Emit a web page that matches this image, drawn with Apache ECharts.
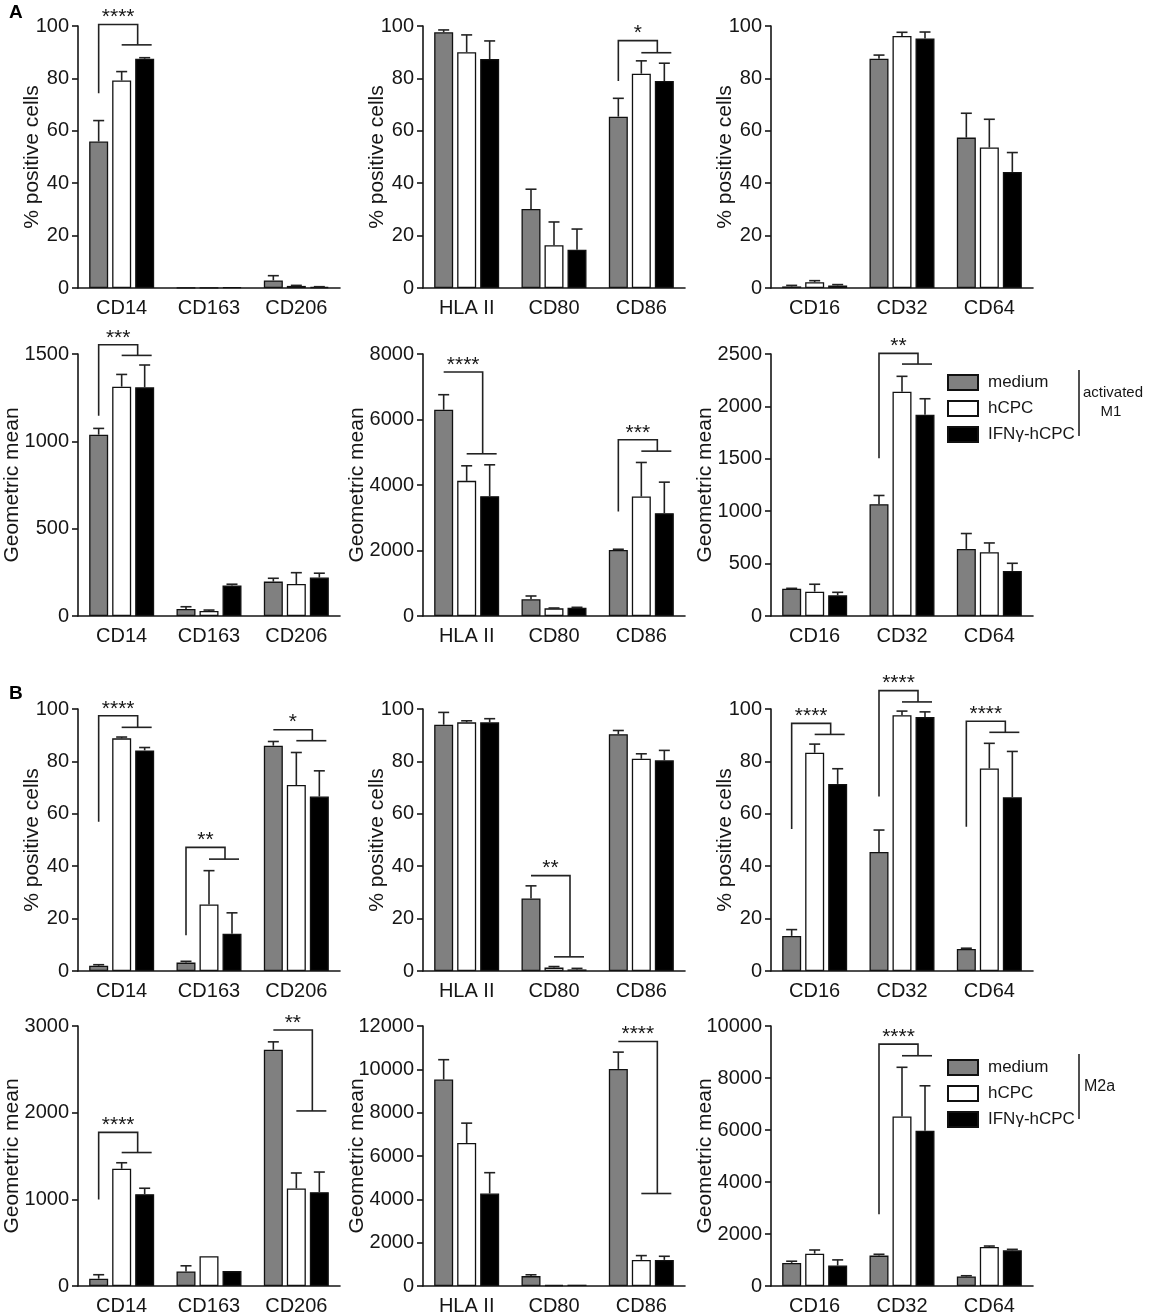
<!DOCTYPE html>
<html>
<head>
<meta charset="utf-8">
<script src="https://cdn.jsdelivr.net/npm/echarts@6/dist/echarts.min.js"></script>
<style>
  html, body { margin: 0; background: #fff; }
  #chart { width: 1149px; height: 1316px; }
</style>
</head>
<body>
<div id="chart"></div>
<script>
// groups and marker categories
const groups = ['medium', 'hCPC', 'IFNγ-hCPC'];
const markersA = ['CD14', 'CD163', 'CD206'];
const markersB = ['HLA II', 'CD80', 'CD86'];
const markersC = ['CD16', 'CD32', 'CD64'];

// y axis ranges [min, max, step]
const pctAxis = [0, 100, 20];
const aGeo1Axis = [0, 1500, 500];
const aGeo2Axis = [0, 8000, 2000];
const aGeo3Axis = [0, 2500, 500];
const bGeo1Axis = [0, 3000, 1000];
const bGeo2Axis = [0, 12000, 2000];
const bGeo3Axis = [0, 10000, 2000];

// means: rows = medium, hCPC, IFNγ-hCPC ; columns = markers
// err = upper error bar length
// sig = [marker, foot of left leg, top of bracket, lower bar, stars]

// A: activated M1
const aPct1Mean = [[55.9, 0.1, 2.9], [79.2, 0.1, 0.8], [87.5, 0.3, 0.4]];
const aPct1Err = [[8.0, 0, 1.8], [3.4, 0, 0.2], [0.4, 0, 0.1]];
const aPct1Sig = [[0, 74.3, 100.6, 92.8, '****']];

const aPct2Mean = [[97.6, 30.2, 65.4], [90.0, 16.3, 81.8], [87.4, 14.6, 79.0]];
const aPct2Err = [[0.9, 7.5, 7.0], [6.6, 8.9, 4.9], [6.9, 7.9, 6.8]];
const aPct2Sig = [[2, 79.0, 94.4, 89.8, '*']];

const aPct3Mean = [[0.6, 87.5, 57.4], [2.2, 96.2, 53.6], [1.0, 95.2, 44.3]];
const aPct3Err = [[0.4, 1.4, 9.3], [0.6, 1.4, 10.8], [0.3, 2.5, 7.4]];
const aPct3Sig = [];

const aGeo1Mean = [[1038, 40, 197], [1313, 29, 183], [1309, 174, 220]];
const aGeo1Err = [[36, 13, 19], [70, 5, 65], [128, 8, 25]];
const aGeo1Sig = [[0, 1146, 1553, 1492, '***']];

const aGeo2Mean = [[6298, 510, 2018], [4127, 234, 3648], [3659, 255, 3139]];
const aGeo2Err = [[459, 101, 20], [459, 10, 1040], [957, 10, 948]];
const aGeo2Sig = [[0, 7450, 7450, 4953, '****'], [2, 3190, 5381, 5034, '***']];

const aGeo3Mean = [[261, 1067, 640], [232, 2140, 608], [197, 1920, 430]];
const aGeo3Err = [[3, 83, 147], [71, 147, 89], [29, 153, 73]];
const aGeo3Sig = [[1, 1506, 2506, 2404, '**']];

// B: M2a
const bPct1Mean = [[2.0, 3.2, 86.0], [88.8, 25.4, 71.0], [84.2, 14.2, 66.6]];
const bPct1Err = [[0.4, 0.5, 1.6], [0.5, 12.9, 12.4], [1.1, 8.0, 9.8]];
const bPct1Sig = [[0, 57.0, 97.4, 93.0, '****'], [1, 13.6, 47.2, 42.7, '**'], [2, 92.1, 92.1, 87.9, '*']];

const bPct2Mean = [[94.0, 27.7, 90.4], [94.9, 1.3, 81.0], [94.9, 0.6, 80.4]];
const bPct2Err = [[4.7, 4.8, 1.4], [0.6, 0.4, 1.9], [1.4, 0.4, 3.8]];
const bPct2Sig = [[1, 36.4, 36.4, 5.4, '**']];

const bPct3Mean = [[13.4, 45.4, 8.4], [83.3, 97.6, 77.3], [71.4, 96.9, 66.3]];
const bPct3Err = [[2.4, 8.4, 0.3], [3.3, 1.6, 9.6], [5.8, 2.0, 17.5]];
const bPct3Sig = [[0, 54.2, 94.5, 90.3, '****'], [1, 66.6, 107.0, 102.7, '****'], [2, 55.1, 95.3, 91.1, '****']];

const bGeo1Mean = [[84, 168, 2726], [1353, 343, 1125], [1060, 172, 1083]];
const bGeo1Err = [[46, 65, 91], [69, 0, 179], [68, 0, 232]];
const bGeo1Sig = [[0, 999, 1773, 1540, '****'], [2, 2954, 2954, 2020, '**']];

const bGeo2Mean = [[9530, 457, 10018], [6602, 46, 1205], [4269, 61, 1205]];
const bGeo2Err = [[915, 61, 777], [915, 0, 198], [961, 0, 167]];
const bGeo2Sig = [[2, 11283, 11283, 4269, '****']];

const bGeo3Mean = [[889, 1169, 368], [1245, 6518, 1499], [788, 5972, 1372]];
const bGeo3Err = [[64, 51, 26], [140, 1894, 38], [216, 1728, 38]];
const bGeo3Sig = [[1, 2757, 9301, 8856, '****']];

const PCT = '% positive cells';
const GEO = 'Geometric mean';

const panels = [
  { row: 0, col: 0, cats: markersA, mean: aPct1Mean, err: aPct1Err, sig: aPct1Sig, axis: pctAxis, name: PCT },
  { row: 0, col: 1, cats: markersB, mean: aPct2Mean, err: aPct2Err, sig: aPct2Sig, axis: pctAxis, name: PCT },
  { row: 0, col: 2, cats: markersC, mean: aPct3Mean, err: aPct3Err, sig: aPct3Sig, axis: pctAxis, name: PCT },
  { row: 1, col: 0, cats: markersA, mean: aGeo1Mean, err: aGeo1Err, sig: aGeo1Sig, axis: aGeo1Axis, name: GEO },
  { row: 1, col: 1, cats: markersB, mean: aGeo2Mean, err: aGeo2Err, sig: aGeo2Sig, axis: aGeo2Axis, name: GEO },
  { row: 1, col: 2, cats: markersC, mean: aGeo3Mean, err: aGeo3Err, sig: aGeo3Sig, axis: aGeo3Axis, name: GEO },
  { row: 2, col: 0, cats: markersA, mean: bPct1Mean, err: bPct1Err, sig: bPct1Sig, axis: pctAxis, name: PCT },
  { row: 2, col: 1, cats: markersB, mean: bPct2Mean, err: bPct2Err, sig: bPct2Sig, axis: pctAxis, name: PCT },
  { row: 2, col: 2, cats: markersC, mean: bPct3Mean, err: bPct3Err, sig: bPct3Sig, axis: pctAxis, name: PCT },
  { row: 3, col: 0, cats: markersA, mean: bGeo1Mean, err: bGeo1Err, sig: bGeo1Sig, axis: bGeo1Axis, name: GEO },
  { row: 3, col: 1, cats: markersB, mean: bGeo2Mean, err: bGeo2Err, sig: bGeo2Sig, axis: bGeo2Axis, name: GEO },
  { row: 3, col: 2, cats: markersC, mean: bGeo3Mean, err: bGeo3Err, sig: bGeo3Sig, axis: bGeo3Axis, name: GEO }
];

// layout
const colLeft = [78, 423, 771];
const rowTop = [26, 354, 709, 1026];
const PLOT = 262;
const BAR_W = 19;
const BAR_GAP = 4;
const STEP = BAR_W + BAR_GAP;
const fills = ['#808080', '#ffffff', '#000000'];
const INK = '#161616';
const FONT = 'Liberation Sans, Arial, sans-serif';

function renderError(params, api) {
  const cat = api.value(0);
  const g = api.value(1);
  const mean = api.value(2);
  const err = api.value(3);
  if (!err) return;
  const base = api.coord([cat, mean]);
  const top = api.coord([cat, mean + err]);
  const x = base[0] + (g - 1) * STEP;
  const st = { stroke: '#222', lineWidth: 1.6 };
  return {
    type: 'group',
    children: [
      { type: 'line', shape: { x1: x, y1: base[1], x2: x, y2: top[1] }, style: st },
      { type: 'line', shape: { x1: x - 5.5, y1: top[1], x2: x + 5.5, y2: top[1] }, style: st }
    ]
  };
}

function bracketRenderer(sig) {
  return function (params, api) {
    const s = sig[params.dataIndex];
    const c = api.coord([s[0], s[2]]);
    const yFoot = api.coord([s[0], s[1]])[1];
    const ySub = api.coord([s[0], s[3]])[1];
    const xl = c[0] - STEP;
    const xm = c[0] + 16;
    const st = { stroke: '#222', lineWidth: 1.6, fill: null };
    return {
      type: 'group',
      children: [
        { type: 'polyline', shape: { points: [[xl, yFoot], [xl, c[1]], [xm, c[1]], [xm, ySub]] }, style: st },
        { type: 'line', shape: { x1: c[0], y1: ySub, x2: c[0] + 30, y2: ySub }, style: st },
        { type: 'text', style: { text: s[4], x: (xl + xm) / 2, y: c[1] - 7, align: 'center', verticalAlign: 'middle',
          fill: INK, font: '21px ' + FONT } }
      ]
    };
  };
}

const grid = [], xAxis = [], yAxis = [], series = [];
panels.forEach((p, i) => {
  grid.push({ left: colLeft[p.col], top: rowTop[p.row], width: PLOT, height: PLOT });
  xAxis.push({
    type: 'category', gridIndex: i, data: p.cats,
    axisLine: { lineStyle: { color: INK, width: 1.6 } },
    axisTick: { alignWithLabel: true, length: 6, lineStyle: { color: INK, width: 1.6 } },
    axisLabel: { fontSize: 20, color: INK, fontFamily: FONT, margin: 10 }
  });
  yAxis.push({
    type: 'value', gridIndex: i, min: p.axis[0], max: p.axis[1], interval: p.axis[2],
    name: p.name, nameLocation: 'middle', nameGap: p.name === PCT ? 35 : 55,
    nameMoveOverlap: false,
    nameTextStyle: { fontSize: 21, color: INK, fontFamily: FONT },
    axisLine: { show: true, lineStyle: { color: INK, width: 1.6 } },
    axisTick: { show: true, length: 6, lineStyle: { color: INK, width: 1.6 } },
    axisLabel: { fontSize: 20, color: INK, fontFamily: FONT, margin: 9, formatter: v => String(v) },
    splitLine: { show: false }
  });
  groups.forEach((g, k) => {
    series.push({
      type: 'bar', name: g, xAxisIndex: i, yAxisIndex: i, data: p.mean[k],
      barWidth: BAR_W, barGap: (BAR_GAP / BAR_W * 100) + '%',
      itemStyle: { color: fills[k], borderColor: '#111', borderWidth: 1.3 },
      emphasis: { disabled: true }
    });
  });
  const errData = [];
  p.mean.forEach((row, k) => row.forEach((v, c) => errData.push([c, k, v, p.err[k][c]])));
  series.push({
    type: 'custom', xAxisIndex: i, yAxisIndex: i, data: errData,
    encode: { x: 0, y: 2 }, renderItem: renderError, silent: true, z: 3
  });
  if (p.sig.length) {
    series.push({
      type: 'custom', xAxisIndex: i, yAxisIndex: i, data: p.sig.map(s => [s[0], s[2]]),
      encode: { x: 0, y: 1 }, renderItem: bracketRenderer(p.sig), silent: true, clip: false, z: 4
    });
  }
});

const legendBase = {
  data: groups, orient: 'vertical', left: 942, itemWidth: 30, itemHeight: 15, itemGap: 9,
  icon: 'rect', selectedMode: false,
  textStyle: { fontSize: 17, color: INK, fontFamily: FONT, padding: [0, 0, 0, 5] }
};

const chart = echarts.init(document.getElementById('chart'), null, { renderer: 'canvas' });
chart.setOption({
  animation: false,
  backgroundColor: '#fff',
  textStyle: { fontFamily: FONT },
  grid, xAxis, yAxis, series,
  legend: [
    Object.assign({}, legendBase, { top: 369 }),
    Object.assign({}, legendBase, { top: 1054 })
  ],
  graphic: [
    { type: 'text', left: 9, top: 3, style: { text: 'A', font: 'bold 19px ' + FONT, fill: '#000' } },
    { type: 'text', left: 9, top: 684, style: { text: 'B', font: 'bold 19px ' + FONT, fill: '#000' } },
    { type: 'line', shape: { x1: 1079, y1: 370, x2: 1079, y2: 436 }, style: { stroke: INK, lineWidth: 1.5 } },
    { type: 'text', x: 1113, y: 393, style: { text: 'activated', font: '15px ' + FONT, fill: INK, align: 'center', verticalAlign: 'middle' } },
    { type: 'text', x: 1111, y: 412, style: { text: 'M1', font: '15px ' + FONT, fill: INK, align: 'center', verticalAlign: 'middle' } },
    { type: 'line', shape: { x1: 1079, y1: 1054, x2: 1079, y2: 1119 }, style: { stroke: INK, lineWidth: 1.5 } },
    { type: 'text', x: 1084, y: 1087, style: { text: 'M2a', font: '16px ' + FONT, fill: INK, align: 'left', verticalAlign: 'middle' } }
  ]
});
</script>
</body>
</html>
